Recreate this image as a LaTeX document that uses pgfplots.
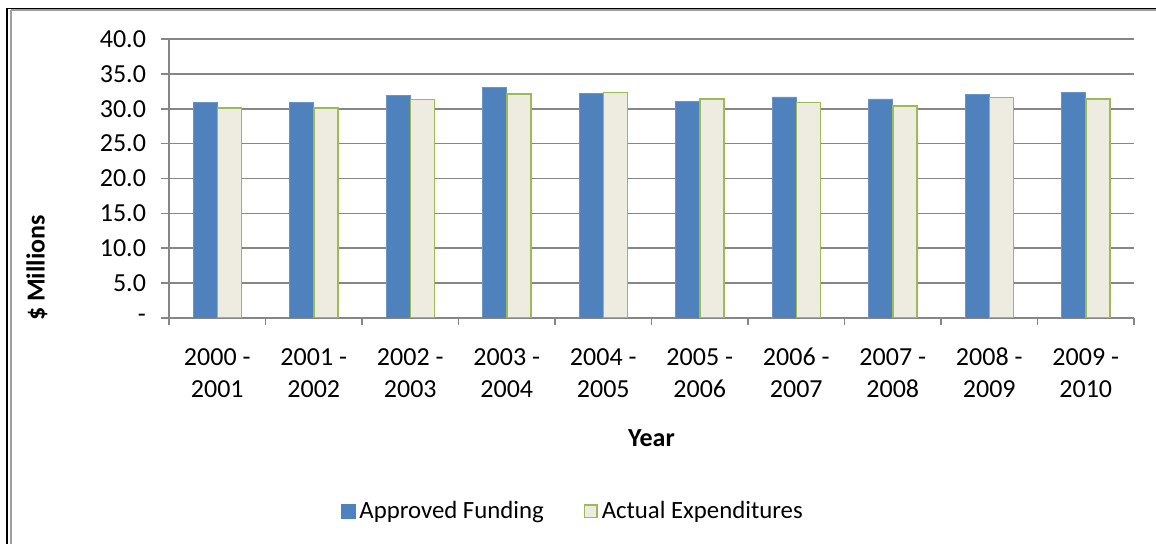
\documentclass[border=0pt]{standalone}
\usepackage{pgfplots}
\pgfplotsset{compat=1.18}
\usepackage{fontspec}
\setmainfont{Carlito}[Numbers=Lining]
\definecolor{blueA}{HTML}{4F81BD}
\definecolor{greenB}{HTML}{9BBB59}
\definecolor{beigeC}{HTML}{EEECE1}
\definecolor{gridgray}{HTML}{868686}
\newcommand{\cfont}{\fontsize{13pt}{16pt}\selectfont}
\newcommand{\lfont}{\fontsize{12.4pt}{15pt}\selectfont}
\begin{document}
\begin{tikzpicture}
\path[use as bounding box] (0,0) rectangle (578pt,-272pt);
% frame
\draw[black, line width=0.8pt] (3.5pt,-4.25pt) -- (578pt,-4.25pt);
\draw[black, line width=0.8pt] (3.5pt,-4.25pt) -- (3.5pt,-272pt);
\draw[gridgray!80, line width=0.7pt] (5.5pt,-5pt) -- (578pt,-5pt);
\draw[gridgray!80, line width=0.7pt] (5.5pt,-5pt) -- (5.5pt,-272pt);
\begin{axis}[
  at={(84.5pt,-159pt)}, anchor=south west,
  scale only axis, width=482.5pt, height=139.5pt,
  xmin=-0.5, xmax=9.5, ymin=0, ymax=40,
  ytick={0,5,10,15,20,25,30,35,40},
  yticklabels={-,5.0,10.0,15.0,20.0,25.0,30.0,35.0,40.0},
  xtick={0,1,2,3,4,5,6,7,8,9},
  xticklabels={\strut 2000 -\\2001\strut,\strut 2001 -\\2002\strut,\strut 2002 -\\2003\strut,\strut 2003 -\\2004\strut,\strut 2004 -\\2005\strut,\strut 2005 -\\2006\strut,\strut 2006 -\\2007\strut,\strut 2007 -\\2008\strut,\strut 2008 -\\2009\strut,\strut 2009 -\\2010\strut},
  minor xtick={-0.5,0.5,1.5,2.5,3.5,4.5,5.5,6.5,7.5,8.5,9.5},
  xtick style={draw=none},
  minor x tick style={draw=gridgray, line width=0.75pt},
  ytick style={draw=gridgray, line width=0.75pt},
  tick align=outside,
  major tick length=4pt, minor tick length=3.5pt,
  axis x line*=bottom, axis y line*=left,
  axis line style={draw=gridgray, line width=0.75pt, -},
  ymajorgrids, major grid style={draw=gridgray, line width=0.75pt},
  tick label style={font=\cfont},
  xticklabel style={align=center, anchor=north, yshift=-5pt},
  yticklabel style={xshift=-4pt},
  ybar=0pt, bar width=12pt,
  legend style={at={(0.4195,-0.692)}, anchor=center, draw=none, font=\lfont,
    legend columns=2, /tikz/every even column/.append style={column sep=18pt}},
  legend cell align=left,
]
\addplot[fill=blueA, draw=blueA!85!white, line width=0.3pt,
  legend image code/.code={\fill[blueA] (0pt,-3.5pt) rectangle (7pt,3.5pt);}]
  coordinates {(0,30.9) (1,30.9) (2,31.9) (3,33.1) (4,32.2) (5,31.1) (6,31.7) (7,31.4) (8,32.1) (9,32.3)};
\addlegendentry{Approved Funding}
\addplot[fill=beigeC, draw=greenB, line width=0.75pt,
  legend image code/.code={\draw[fill=beigeC, draw=greenB, line width=0.75pt] (0.4pt,-3.1pt) rectangle (6.6pt,3.1pt);}]
  coordinates {(0,30.1) (1,30.1) (2,31.3) (3,32.1) (4,32.3) (5,31.4) (6,30.9) (7,30.4) (8,31.6) (9,31.4)};
\addlegendentry{Actual Expenditures}
\end{axis}
\node[rotate=90, font=\cfont\bfseries] at (18.5pt,-134pt) {\$ Millions};
\node[font=\cfont\bfseries] at (325.75pt,-219pt) {Year};
\end{tikzpicture}
\end{document}
